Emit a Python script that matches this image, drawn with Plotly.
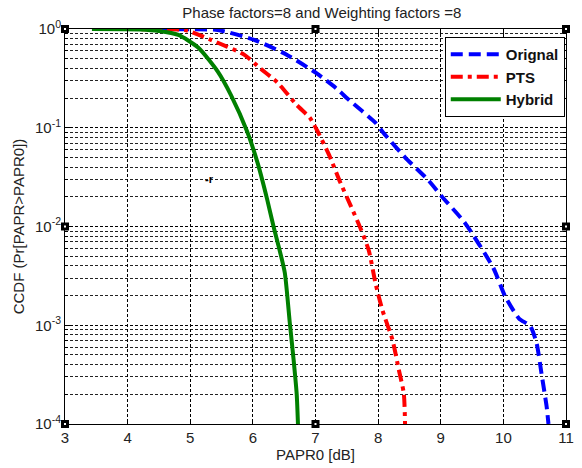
import plotly.graph_objects as go

# Data (CCDF vs PAPR0 in dB)
orig_x = [4.5, 5.0, 5.44, 6.02, 6.54, 7.02, 7.33, 7.54, 7.96, 8.07, 8.43, 8.80, 9.02,
          9.38, 9.84, 10.03, 10.25, 10.43, 10.53, 10.61, 10.69, 10.72]
orig_y = [1.0, 0.993, 0.977, 0.776, 0.55, 0.355, 0.251, 0.19, 0.112, 0.0912, 0.0501,
          0.0295, 0.02, 0.011, 0.0038, 0.00195, 0.00117, 0.00098, 0.00066, 0.00032,
          0.000151, 0.0001]

pts_x = [3.8, 4.5, 4.92, 5.33, 5.86, 6.12, 6.39, 6.70, 6.91, 7.02, 7.22, 7.38, 7.57,
         7.72, 7.85, 7.96, 8.07, 8.23, 8.33, 8.41, 8.43]
pts_y = [1.0, 0.993, 0.977, 0.776, 0.55, 0.398, 0.288, 0.17, 0.126, 0.0955, 0.0525,
         0.0295, 0.0158, 0.00955, 0.00575, 0.00263, 0.00141, 0.000708, 0.000355,
         0.000204, 0.0001]

hyb_x = [3.43, 4.2, 4.5, 4.81, 5.13, 5.44, 5.65, 5.91, 6.08, 6.23, 6.33, 6.42, 6.51,
         6.59, 6.65, 6.70, 6.72]
hyb_y = [1.0, 0.99, 0.955, 0.87, 0.645, 0.37, 0.214, 0.091, 0.043, 0.0186, 0.01,
         0.006, 0.0034, 0.00105, 0.00045, 0.0002, 0.0001]

x_ticks = [3, 4, 5, 6, 7, 8, 9, 10, 11]
y_ticks = [1e-4, 1e-3, 1e-2, 1e-1, 1e0]
y_ticktext = ["10<sup>-4</sup>", "10<sup>-3</sup>", "10<sup>-2</sup>", "10<sup>-1</sup>", "10<sup>0</sup>"]

FONT = "Arial"

fig = go.Figure()
fig.add_trace(go.Scatter(x=orig_x, y=orig_y, mode="lines", name="Orignal",
                         line=dict(color="#0000ff", width=4, dash="12px,6px",
                                   shape="spline", smoothing=0.6)))
fig.add_trace(go.Scatter(x=pts_x, y=pts_y, mode="lines", name="PTS",
                         line=dict(color="#ff0000", width=4, dash="12px,5px,4px,5px",
                                   shape="spline", smoothing=0.6)))
fig.add_trace(go.Scatter(x=hyb_x, y=hyb_y, mode="lines", name="Hybrid",
                         line=dict(color="#008000", width=4, shape="spline", smoothing=0.6)))

# small stray mark
fig.add_annotation(x=5.3, y=-1.52, xref="x", yref="y", text="<b>-r</b>", showarrow=False,
                   font=dict(size=11, color="black", family=FONT))

# MATLAB-style selection handles
handles = [(0, 1), (0.5, 1), (1, 1), (0, 0.5), (1, 0.5), (0, 0), (0.5, 0), (1, 0)]
for hx, hy in handles:
    fig.add_shape(type="rect", xref="x domain", yref="y domain",
                  xsizemode="pixel", ysizemode="pixel", xanchor=hx, yanchor=hy,
                  x0=-4, x1=4, y0=-4, y1=4, fillcolor="black", line=dict(width=0))
    fig.add_shape(type="rect", xref="x domain", yref="y domain",
                  xsizemode="pixel", ysizemode="pixel", xanchor=hx, yanchor=hy,
                  x0=-1, x1=1, y0=-1, y1=1, fillcolor="white", line=dict(width=0))

fig.update_layout(
    width=582, height=468,
    margin=dict(l=65, r=8, t=29, b=44),
    paper_bgcolor="white", plot_bgcolor="white",
    font=dict(family=FONT, size=15, color="#222222"),
    title=dict(text="Phase factors=8 and Weighting factors =8", x=0.553, xanchor="center",
               y=0.973, yanchor="middle", font=dict(size=15, family=FONT, color="#222222")),
    showlegend=True,
    legend=dict(x=0.758, y=0.98, xanchor="left", yanchor="top",
                bgcolor="white", bordercolor="black", borderwidth=1,
                font=dict(size=15, family=FONT, color="#111111", weight="bold"),
                tracegroupgap=0, itemwidth=50),
)

fig.update_xaxes(
    range=[3, 11], tickvals=x_ticks, ticks="inside", ticklen=5, tickcolor="black",
    showline=True, linecolor="black", linewidth=1, mirror="ticks",
    showgrid=True, gridcolor="black", griddash="3px,2px", gridwidth=1,
    zeroline=False,
    title=dict(text="PAPR0 [dB]", font=dict(size=15, family=FONT), standoff=3),
    tickfont=dict(size=15, family=FONT),
)
fig.update_yaxes(
    type="log", range=[-4, 0], tickvals=y_ticks, ticktext=y_ticktext,
    ticks="inside", ticklen=5, tickcolor="black",
    showline=True, linecolor="black", linewidth=1, mirror="ticks",
    showgrid=True, gridcolor="black", griddash="3px,2px", gridwidth=1,
    minor=dict(dtick="D1", showgrid=True, gridcolor="#222222", griddash="3px,2px",
               gridwidth=1, ticks="inside", ticklen=3, tickcolor="black"),
    zeroline=False,
    title=dict(text="CCDF (Pr[PAPR>PAPR0])", font=dict(size=15, family=FONT), standoff=6),
    tickfont=dict(size=15, family=FONT),
)

fig.write_html("out.html")
